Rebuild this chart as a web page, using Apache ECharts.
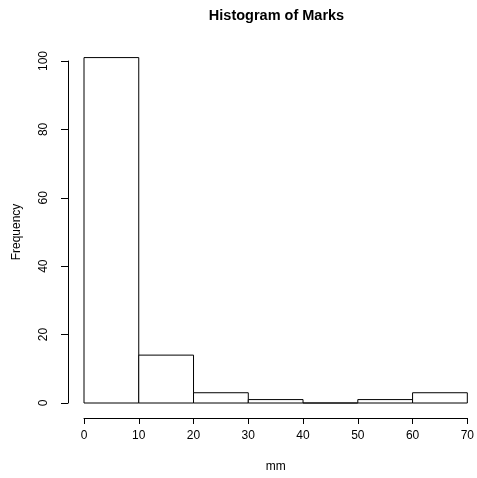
<!DOCTYPE html>
<html>
<head>
<meta charset="utf-8">
<script src="https://cdn.jsdelivr.net/npm/echarts@6/dist/echarts.min.js"></script>
<style>html,body{margin:0;padding:0;background:#fff;}#c{width:477px;height:478px;}</style>
</head>
<body>
<div id="c"></div>
<script>
const binStarts = [0, 10, 20, 30, 40, 50, 60];
const binEnds = [10, 20, 30, 40, 50, 60, 70];
const counts = [101, 14, 3, 1, 0, 1, 3];
const xTicks = [0, 10, 20, 30, 40, 50, 60, 70];
const yTicks = [0, 20, 40, 60, 80, 100];

const data = binStarts.map((s, i) => [s, binEnds[i], counts[i]]);
const font = '"Liberation Sans", Arial, Helvetica, sans-serif';
const chart = echarts.init(document.getElementById('c'), null, {renderer: 'canvas'});
chart.setOption({
  animation: false,
  backgroundColor: '#fff',
  title: {
    text: 'Histogram of Marks', left: 271.5, top: 3, textAlign: 'center',
    textStyle: {fontFamily: font, fontWeight: 'bold', fontSize: 14.5, color: '#000'}
  },
  grid: {left: 84, right: 8, top: 61, bottom: 75, containLabel: false},
  xAxis: {
    type: 'value', min: xTicks[0], max: xTicks[xTicks.length - 1], interval: 10,
    offset: 15,
    name: 'mm', nameLocation: 'middle', nameGap: 43, nameMoveOverlap: false,
    nameTextStyle: {fontFamily: font, fontSize: 12, color: '#000'},
    axisLine: {show: true, onZero: false, lineStyle: {color: '#000', width: 1}},
    axisTick: {show: true, length: 6, lineStyle: {color: '#000'}},
    axisLabel: {fontFamily: font, fontSize: 12, color: '#000', margin: 12},
    splitLine: {show: false}
  },
  yAxis: {
    type: 'value', min: yTicks[0], max: yTicks[yTicks.length - 1], interval: 20,
    offset: 16,
    name: 'Frequency', nameLocation: 'middle', nameGap: 45, nameRotate: 90, nameMoveOverlap: false,
    nameTextStyle: {fontFamily: font, fontSize: 12, color: '#000'},
    axisLine: {show: true, onZero: false, lineStyle: {color: '#000', width: 1}},
    axisTick: {show: true, length: 7, lineStyle: {color: '#000'}},
    axisLabel: {fontFamily: font, fontSize: 12, color: '#000', rotate: 90, margin: 18},
    splitLine: {show: false}
  },
  series: [{
    type: 'custom',
    clip: false,
    data: data,
    encode: {x: [0, 1], y: 2},
    renderItem: function (params, api) {
      const p0 = api.coord([api.value(0), api.value(2)]);
      const p1 = api.coord([api.value(1), 0]);
      return {
        type: 'rect',
        shape: {x: p0[0], y: p0[1], width: p1[0] - p0[0], height: p1[1] - p0[1]},
        style: {fill: '#fff', stroke: '#000', lineWidth: 1}
      };
    }
  }]
});
</script>
</body>
</html>
